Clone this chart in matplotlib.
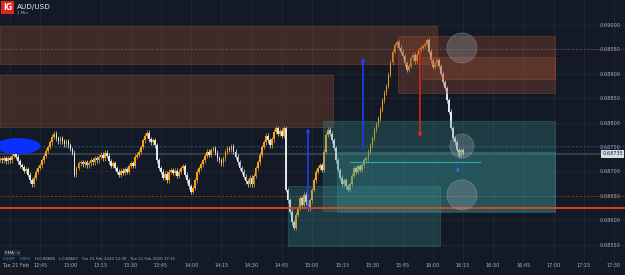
import numpy as np
import matplotlib
matplotlib.use("Agg")
import matplotlib.pyplot as plt
from matplotlib.patches import Rectangle, Ellipse
from matplotlib.transforms import ScaledTranslation

# 1-minute closes AUD/USD, 21 Feb 2020, from 12:25 (one row = 15 minutes)
closes = [
    0.68725, 0.68723, 0.68727, 0.68721, 0.68727, 0.68723, 0.68732, 0.68738, 0.68730, 0.68721, 0.68713, 0.68709, 0.68701, 0.68705, 0.68693,
    0.68682, 0.68674, 0.68687, 0.68699, 0.68707, 0.68713, 0.68723, 0.68732, 0.68742, 0.68750, 0.68760, 0.68771, 0.68777, 0.68768, 0.68762,
    0.68768, 0.68762, 0.68756, 0.68762, 0.68754, 0.68746, 0.68738, 0.68693, 0.68707, 0.68717, 0.68719, 0.68715, 0.68719, 0.68713, 0.68717,
    0.68723, 0.68719, 0.68727, 0.68723, 0.68730, 0.68734, 0.68727, 0.68738, 0.68732, 0.68721, 0.68711, 0.68717, 0.68707, 0.68699, 0.68693,
    0.68701, 0.68697, 0.68705, 0.68699, 0.68711, 0.68717, 0.68711, 0.68730, 0.68734, 0.68740, 0.68750, 0.68764, 0.68773, 0.68779, 0.68766,
    0.68760, 0.68764, 0.68754, 0.68723, 0.68707, 0.68699, 0.68687, 0.68695, 0.68682, 0.68699, 0.68703, 0.68697, 0.68701, 0.68691, 0.68699,
    0.68707, 0.68711, 0.68693, 0.68682, 0.68670, 0.68658, 0.68666, 0.68682, 0.68699, 0.68707, 0.68715, 0.68723, 0.68732, 0.68740, 0.68734,
    0.68744, 0.68748, 0.68738, 0.68727, 0.68723, 0.68717, 0.68727, 0.68740, 0.68748, 0.68744, 0.68752, 0.68740, 0.68730, 0.68719, 0.68707,
    0.68699, 0.68689, 0.68680, 0.68674, 0.68687, 0.68674, 0.68691, 0.68707, 0.68719, 0.68734, 0.68750, 0.68760, 0.68773, 0.68764, 0.68754,
    0.68766, 0.68781, 0.68789, 0.68777, 0.68783, 0.68773, 0.68789, 0.68662, 0.68641, 0.68617, 0.68596, 0.68584, 0.68611, 0.68625, 0.68645,
    0.68631, 0.68652, 0.68637, 0.68623, 0.68641, 0.68662, 0.68682, 0.68699, 0.68707, 0.68713, 0.68703, 0.68740, 0.68775, 0.68785, 0.68777,
    0.68764, 0.68748, 0.68723, 0.68703, 0.68687, 0.68674, 0.68682, 0.68670, 0.68662, 0.68674, 0.68691, 0.68707, 0.68699, 0.68711, 0.68703,
    0.68713, 0.68723, 0.68727, 0.68740, 0.68754, 0.68768, 0.68785, 0.68797, 0.68809, 0.68826, 0.68846, 0.68861, 0.68875, 0.68898, 0.68924,
    0.68945, 0.68959, 0.68965, 0.68953, 0.68945, 0.68936, 0.68922, 0.68908, 0.68916, 0.68932, 0.68939, 0.68926, 0.68939, 0.68949, 0.68953,
    0.68957, 0.68961, 0.68969, 0.68945, 0.68928, 0.68914, 0.68922, 0.68928, 0.68916, 0.68900, 0.68883, 0.68871, 0.68846, 0.68822, 0.68789,
    0.68768, 0.68760, 0.68744, 0.68732, 0.68744, 0.68736,
]
start_minute = 12 * 60 + 25

# time axis (minutes since midnight) and labels
time_ticks = list(range(750, 1051, 15))
time_labels = ["Tue 21 Feb"] + [f"{m // 60}:{m % 60:02d}" for m in time_ticks[1:]]
price_ticks = [0.68550, 0.68600, 0.68650, 0.68700, 0.68750, 0.68800, 0.68850, 0.68900, 0.68950, 0.69000]
last_price = "0.68735"

# zones drawn on the chart: (start, end, low, high)
supply_zones = [(745, 962, 0.68920, 0.68998), (745, 910.5, 0.68790, 0.68898),
                (942.7, 1020.7, 0.68861, 0.68977), (954.6, 1020.7, 0.68889, 0.68934)]
demand_zones = [(905.4, 1020.7, 0.68619, 0.68803), (912.4, 1020.7, 0.68617, 0.68740),
                (888, 963.5, 0.68547, 0.68670)]
red_level = 0.68625
brown_dotted = [0.68650, 0.68951]
blue_dotted = 0.68752
teal_level = (918.8, 983.4, 0.68719)
up_arrows = [(898, 0.68617, 0.68795), (925.3, 0.68740, 0.68939)]
down_arrows = [(953.6, 0.68955, 0.68764)]
small_arrow = (972.5, 0.68713, 0.68691)
circles = [(974.5, 0.68953, 15), (974.5, 0.68752, 12), (974.5, 0.68652, 15)]

BG = "#131a25"
UP = "#f2a31b"
DOWN = "#e4e6ea"
TXT = "#aab0ba"

fig = plt.figure(figsize=(6.25, 2.75), dpi=100, facecolor=BG)
ax = fig.add_axes([0, 0, 1, 1])
ax.set_facecolor(BG)
ax.set_xlim(745, 1055.5)
ax.set_ylim(0.684878, 0.690512)

# px -> data scales for round shapes
px_t = (1055.5 - 745) / 625
px_p = (0.690512 - 0.684878) / 275

ax.set_xticks(time_ticks)
ax.set_xticklabels(time_labels)
ax.set_yticks(price_ticks)
ax.set_yticklabels([f"{p:.5f}" for p in price_ticks])
ax.yaxis.tick_right()
ax.tick_params(axis="x", length=0, pad=-8.5, labelsize=3.6, labelcolor=TXT)
ax.tick_params(axis="y", length=0, pad=-18, labelsize=3.6, labelcolor=TXT)
first = ax.get_xticklabels()[0]
first.set_horizontalalignment("left")
first.set_transform(first.get_transform() + ScaledTranslation(-0.08, 0, fig.dpi_scale_trans))
ax.grid(True, color="#1e2733", lw=0.6)
ax.set_axisbelow(True)
for s in ax.spines.values():
    s.set_visible(False)

# candles
c = np.array(closes)
o = np.concatenate([[c[0]], c[:-1]])
t = start_minute + np.arange(len(c))
cols = [UP if ci >= oi else DOWN for ci, oi in zip(c, o)]
hi = np.maximum(o, c) + 0.00005
lo = np.minimum(o, c) - 0.00005
ax.vlines(t, lo, hi, colors=cols, lw=0.5, zorder=3)
body = np.where(np.abs(c - o) < 0.00003, 0.00003, np.abs(c - o))
ax.bar(t, body, bottom=np.minimum(o, c), width=0.85, color=cols, zorder=3, lw=0)

# horizontal levels
ax.axhline(0.68736, color="#343c49", lw=1.6, zorder=2)
ax.axhline(blue_dotted, color="#1d4f8f", lw=0.7, ls=(0, (2, 2)), zorder=2)
for lvl in brown_dotted:
    ax.axhline(lvl, color="#6a4636", lw=0.7, ls=(0, (2, 2)), zorder=2)
ax.axhline(red_level, color="#e5451d", lw=1.3, zorder=5)
ax.plot([teal_level[0], teal_level[1]], [teal_level[2]] * 2, color="#25a8a8", lw=0.9, zorder=5)

# zones
for x0, x1, p0, p1 in supply_zones:
    ax.add_patch(Rectangle((x0, p0), x1 - x0, p1 - p0, facecolor="#a2502f", alpha=0.3,
                           edgecolor="#c4572b", lw=0.7, zorder=4))
for x0, x1, p0, p1 in demand_zones:
    ax.add_patch(Rectangle((x0, p0), x1 - x0, p1 - p0, facecolor="#3c9494", alpha=0.28,
                           edgecolor="#3f9a9c", lw=0.7, zorder=4))

# arrows
for x, p0, p1 in up_arrows:
    ax.annotate("", xy=(x, p1), xytext=(x, p0), zorder=6,
                arrowprops=dict(arrowstyle="-|>", color="#1f3ee6", lw=1.2, mutation_scale=5))
for x, p0, p1 in down_arrows:
    ax.annotate("", xy=(x, p1), xytext=(x, p0), zorder=6,
                arrowprops=dict(arrowstyle="-|>", color="#e0281c", lw=1.1, mutation_scale=5))
ax.annotate("", xy=(small_arrow[0], small_arrow[2]), xytext=(small_arrow[0], small_arrow[1]), zorder=6,
            arrowprops=dict(arrowstyle="-|>", color="#2a6ee8", lw=1.0, mutation_scale=4))

# circles and the blue marker
for x, p, r in circles:
    ax.add_patch(Ellipse((x, p), 2 * r * px_t, 2 * r * px_p, facecolor="#9aa3ad", alpha=0.3,
                         edgecolor="#c5ccd3", lw=0.6, zorder=6))
ax.add_patch(Ellipse((753.9, blue_dotted), 45 * px_t, 16 * px_p, facecolor="#0a30ff", lw=0, zorder=6))

# current price tag
ax.text(1054.5, 0.68736, last_price, ha="right", va="center", fontsize=3.6, color="#1a2230", zorder=7,
        bbox=dict(boxstyle="square,pad=0.25", fc="#d8dde3", ec="none"))

# header
fig.text(3 / 625, 1 - 3 / 275, "IG", ha="left", va="top", fontsize=5.5, fontweight="bold", color="white",
         bbox=dict(boxstyle="square,pad=0.25", fc="#e3261b", ec="none"))
fig.text(17 / 625, 1 - 7 / 275, "AUD/USD", ha="left", va="center", fontsize=5.2, color="#e8eaee")
fig.text(17 / 625, 1 - 13.5 / 275, "1 Min", ha="left", va="center", fontsize=3, color=TXT)

# bottom-left legend
fig.text(5 / 625, 1 - 253 / 275, "EMA  \u00d7", ha="left", va="center", fontsize=3, color="#c8ccd2",
         bbox=dict(boxstyle="square,pad=0.3", fc="#222a36", ec="none"))
fig.text(3 / 625, 1 - 259.5 / 275, "0.00FF", ha="left", va="center", fontsize=2.8, color="#3f8fd8")
fig.text(20 / 625, 1 - 259.5 / 275, "0.0PS", ha="left", va="center", fontsize=2.8, color="#3f8fd8")
fig.text(35 / 625, 1 - 259.5 / 275, "H:0.68686   L:0.68667   Tue 21 Feb 2020 12:30 - Tue 21 Feb 2020 17:35",
         ha="left", va="center", fontsize=2.8, color=TXT)

fig.savefig("out.png", dpi=100, facecolor=BG)
